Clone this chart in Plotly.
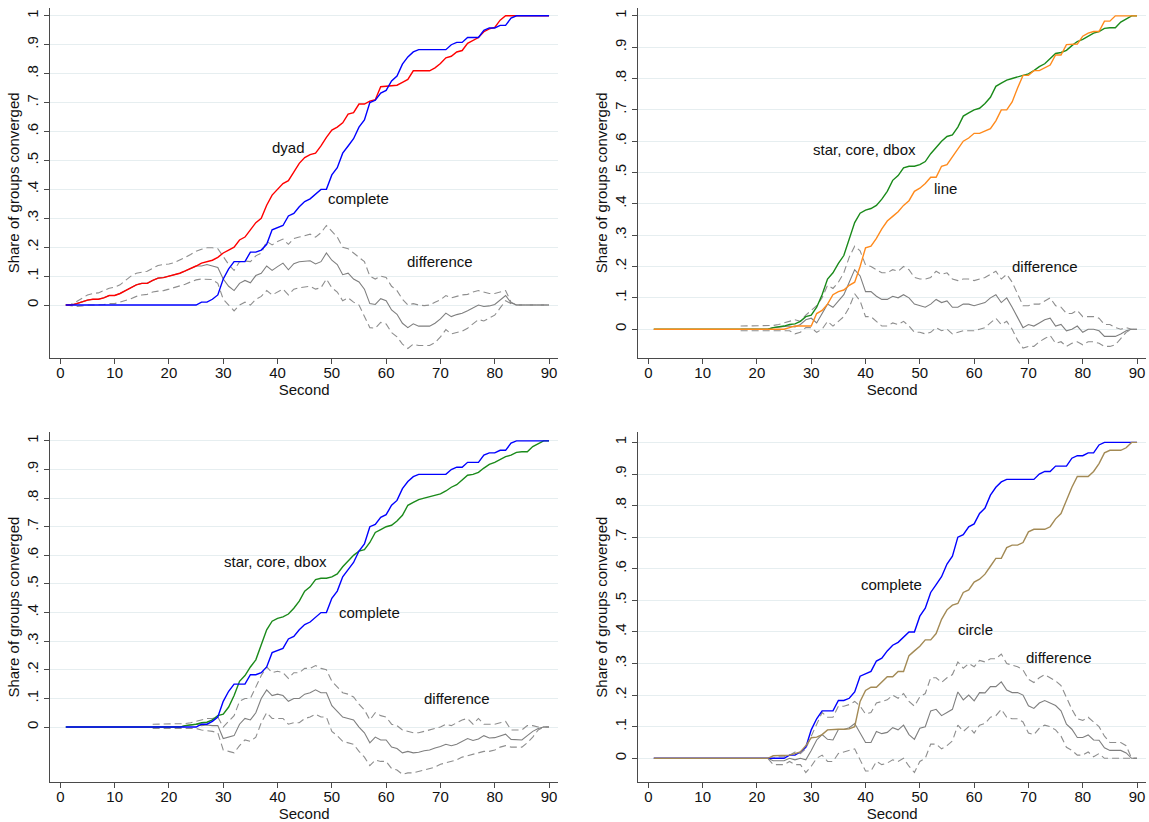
import plotly.graph_objects as go

seconds = list(range(1, 91))

complete = [0,0,0,0,0,0,0,0,0,0,
            0,0,0,0,0,0,0,0,0,0,
            0,0,0,0,0,0.01,0.01,0.02,0.035,0.09,
            0.125,0.15,0.15,0.15,0.183,0.183,0.19,0.21,0.26,0.267,
            0.275,0.308,0.317,0.34,0.358,0.367,0.383,0.4,0.4,0.45,
            0.475,0.525,0.55,0.575,0.615,0.64,0.7,0.708,0.733,0.742,
            0.775,0.792,0.833,0.858,0.875,0.883,0.883,0.883,0.883,0.883,
            0.883,0.9,0.908,0.908,0.925,0.925,0.925,0.95,0.958,0.958,
            0.967,0.967,0.992,1,1,1,1,1,1,1]

dyad = [0,0,0.005,0.012,0.017,0.02,0.02,0.025,0.033,0.033,
        0.04,0.05,0.06,0.07,0.075,0.075,0.085,0.093,0.095,0.1,
        0.103,0.11,0.118,0.126,0.135,0.145,0.15,0.155,0.165,0.18,
        0.19,0.2,0.225,0.235,0.26,0.285,0.3,0.345,0.38,0.4,
        0.42,0.43,0.46,0.49,0.51,0.52,0.525,0.55,0.58,0.605,
        0.615,0.63,0.66,0.665,0.695,0.695,0.705,0.71,0.755,0.757,
        0.758,0.76,0.77,0.78,0.81,0.81,0.81,0.81,0.82,0.835,
        0.855,0.86,0.875,0.88,0.905,0.915,0.925,0.945,0.955,0.96,
        0.985,1,1,1,1,1,1,1,1,1]

star = [0,0,0,0,0,0,0,0,0,0,
        0,0,0,0,0,0,0,0,0,0,
        0,0,0.005,0.007,0.01,0.015,0.017,0.025,0.04,0.045,
        0.07,0.11,0.16,0.18,0.21,0.235,0.29,0.34,0.37,0.38,
        0.385,0.395,0.415,0.44,0.475,0.49,0.515,0.52,0.52,0.525,
        0.535,0.56,0.58,0.6,0.615,0.62,0.645,0.68,0.69,0.7,
        0.705,0.72,0.74,0.775,0.785,0.795,0.8,0.805,0.812,0.815,
        0.825,0.838,0.847,0.865,0.88,0.883,0.89,0.905,0.918,0.925,
        0.935,0.945,0.95,0.96,0.962,0.962,0.98,0.99,1,1]

line = [0,0,0,0,0,0,0,0,0,0,
        0,0,0,0,0,0,0,0,0,0,
        0,0,0,0,0,0.005,0.01,0.01,0.01,0.01,
        0.05,0.06,0.08,0.11,0.12,0.125,0.14,0.15,0.2,0.26,
        0.265,0.29,0.32,0.345,0.36,0.375,0.395,0.41,0.44,0.45,
        0.465,0.485,0.485,0.52,0.525,0.55,0.575,0.6,0.61,0.625,
        0.625,0.633,0.64,0.665,0.7,0.7,0.725,0.77,0.81,0.81,
        0.825,0.825,0.833,0.843,0.875,0.875,0.908,0.908,0.91,0.935,
        0.945,0.95,0.95,0.983,0.983,1,1,1,1,1]

circle = [0,0,0,0,0,0,0,0,0,0,
          0,0,0,0,0,0,0,0,0,0,
          0,0,0.008,0.008,0.008,0.01,0.015,0.02,0.04,0.065,
          0.067,0.075,0.09,0.092,0.092,0.092,0.093,0.1,0.18,0.215,
          0.225,0.225,0.24,0.258,0.258,0.275,0.275,0.325,0.34,0.355,
          0.375,0.375,0.395,0.44,0.47,0.485,0.49,0.525,0.533,0.558,
          0.567,0.583,0.608,0.633,0.633,0.667,0.675,0.675,0.683,0.717,
          0.725,0.725,0.725,0.733,0.758,0.775,0.817,0.858,0.892,0.892,
          0.892,0.908,0.933,0.967,0.975,0.975,0.975,0.983,1,1]

N = None

# panel 1: dyad - complete
diff1 = [0,0,0.005,0.012,0.017,0.02,0.02,0.025,0.033,0.033,
         0.04,0.05,0.06,0.07,0.075,0.075,0.085,0.093,0.095,0.1,
         0.103,0.11,0.118,0.126,0.135,0.135,0.14,0.135,0.13,0.09,
         0.065,0.05,0.075,0.085,0.077,0.102,0.11,0.135,0.12,0.133,
         0.145,0.122,0.143,0.15,0.152,0.153,0.142,0.15,0.18,0.155,
         0.14,0.105,0.11,0.09,0.08,0.055,0.005,0.002,0.022,0.015,
         -0.017,-0.032,-0.063,-0.078,-0.065,-0.073,-0.073,-0.073,-0.063,-0.048,
         -0.028,-0.04,-0.033,-0.028,-0.02,-0.01,0.0,-0.005,-0.003,0.002,
         0.018,0.033,0.008,0,0,0,0,0,0,0]
upper1 = [0,0.003,0.012,0.025,0.035,0.04,0.042,0.05,0.058,0.062,
          0.07,0.085,0.1,0.11,0.113,0.117,0.127,0.137,0.14,0.142,
          0.147,0.155,0.165,0.175,0.186,0.193,0.198,0.198,0.195,0.168,
          0.14,0.12,0.15,0.152,0.15,0.17,0.18,0.22,0.208,0.22,
          0.228,0.21,0.23,0.235,0.24,0.245,0.235,0.25,0.275,0.255,
          0.235,0.2,0.195,0.18,0.165,0.15,0.1,0.09,0.1,0.095,
          0.065,0.05,0.02,0.0,0.005,0.0,-0.002,0.0,0.01,0.018,
          0.033,0.025,0.03,0.035,0.037,0.045,0.05,0.045,0.04,0.04,
          0.045,0.05,0.01,0,0,0,0,0,0,0]
lower1 = [0,-0.002,-0.005,-0.003,0.0,0.0,0.0,0.002,0.005,0.005,
          0.01,0.015,0.022,0.03,0.035,0.037,0.045,0.048,0.05,0.055,
          0.06,0.065,0.072,0.08,0.087,0.09,0.09,0.088,0.075,0.02,
          0.0,-0.02,0.0,0.01,0.0,0.02,0.03,0.05,0.035,0.045,
          0.055,0.035,0.055,0.06,0.062,0.065,0.055,0.06,0.09,0.06,
          0.045,0.015,0.025,0.01,0.0,-0.04,-0.078,-0.08,-0.06,-0.065,
          -0.095,-0.11,-0.135,-0.15,-0.135,-0.14,-0.14,-0.14,-0.13,-0.11,
          -0.085,-0.1,-0.095,-0.09,-0.08,-0.065,-0.05,-0.055,-0.045,-0.035,
          -0.01,0.015,0.005,0,0,0,0,0,0,0]

# panel 2: star - line
diff2 = [N,N,N,N,N,N,N,N,N,N,
         N,N,N,N,N,N,0,0,0,0,
         0,0,0.005,0.007,0.01,0.01,0.007,0.015,0.03,0.035,
         0.02,0.05,0.08,0.07,0.09,0.11,0.15,0.19,0.17,0.12,
         0.12,0.105,0.095,0.095,0.105,0.1,0.11,0.1,0.08,0.075,
         0.07,0.08,0.095,0.085,0.09,0.07,0.07,0.08,0.08,0.075,
         0.08,0.085,0.1,0.11,0.085,0.1,0.07,0.035,0.005,0.015,
         0.01,0.02,0.03,0.035,0.01,0.015,-0.005,0.0,0.01,-0.01,
         0.0,0.0,-0.005,-0.023,-0.023,-0.023,-0.015,-0.005,0,0]
upper2 = [N,N,N,N,N,N,N,N,N,N,
          N,N,N,N,N,N,0.01,0.01,0.01,0.01,
          0.01,0.01,0.012,0.015,0.02,0.025,0.03,0.025,0.045,0.06,
          0.075,0.1,0.14,0.13,0.15,0.18,0.23,0.265,0.25,0.205,
          0.2,0.19,0.18,0.18,0.19,0.185,0.2,0.19,0.165,0.16,
          0.16,0.165,0.185,0.175,0.18,0.16,0.155,0.16,0.16,0.155,
          0.16,0.165,0.175,0.185,0.16,0.175,0.15,0.11,0.075,0.075,
          0.08,0.08,0.09,0.1,0.075,0.07,0.05,0.05,0.06,0.04,
          0.04,0.04,0.035,0.015,0.015,0.005,0.0,0.005,0,0]
lower2 = [N,N,N,N,N,N,N,N,N,N,
          N,N,N,N,N,N,-0.005,-0.005,-0.005,-0.005,
          -0.005,-0.005,-0.005,-0.005,-0.005,-0.005,-0.015,-0.01,0.005,0.005,
          -0.01,0.0,0.025,0.01,0.025,0.04,0.07,0.113,0.09,0.04,
          0.04,0.025,0.01,0.01,0.02,0.015,0.025,0.01,-0.01,-0.01,
          -0.015,-0.01,0.005,-0.005,0.0,-0.015,-0.01,-0.005,-0.005,-0.005,
          0.0,0.005,0.02,0.035,0.015,0.025,0.0,-0.035,-0.06,-0.055,
          -0.055,-0.04,-0.03,-0.02,-0.045,-0.04,-0.055,-0.045,-0.04,-0.05,
          -0.04,-0.04,-0.045,-0.055,-0.055,-0.05,-0.03,-0.01,0,0]

# panel 3: star - complete
diff3 = [N,N,N,N,N,N,N,N,N,N,
         N,N,N,N,N,N,0,0,0,0,
         0,0,0.005,0.007,0.01,0.005,0.007,0.005,0.005,-0.04,
         -0.035,-0.03,0.01,0.03,0.025,0.05,0.1,0.13,0.11,0.115,
         0.11,0.09,0.1,0.1,0.115,0.12,0.13,0.12,0.12,0.075,
         0.055,0.035,0.03,0.025,0.0,-0.02,-0.055,-0.035,-0.045,-0.045,
         -0.07,-0.075,-0.09,-0.085,-0.09,-0.088,-0.083,-0.08,-0.073,-0.068,
         -0.06,-0.065,-0.06,-0.05,-0.04,-0.047,-0.042,-0.03,-0.038,-0.037,
         -0.03,-0.025,-0.043,-0.045,-0.045,-0.03,-0.015,-0.005,0,0]
upper3 = [N,N,N,N,N,N,N,N,N,N,
          N,N,N,N,N,N,0.01,0.01,0.01,0.01,
          0.01,0.01,0.012,0.015,0.02,0.025,0.03,0.03,0.035,0.0,
          0.02,0.04,0.09,0.1,0.1,0.14,0.18,0.21,0.19,0.195,
          0.19,0.17,0.19,0.19,0.205,0.205,0.215,0.205,0.2,0.16,
          0.14,0.12,0.115,0.105,0.08,0.06,0.025,0.05,0.04,0.035,
          0.01,0.005,-0.01,-0.015,-0.02,-0.02,-0.015,-0.01,-0.005,0.0,
          0.01,0.005,0.015,0.025,0.03,0.01,0.03,0.01,0.01,0.01,
          0.015,0.02,-0.01,-0.01,-0.01,0.005,0.005,0.0,0,0]
lower3 = [N,N,N,N,N,N,N,N,N,N,
          N,N,N,N,N,N,-0.005,-0.005,-0.005,-0.005,
          -0.005,-0.005,-0.005,-0.005,-0.005,-0.01,-0.012,-0.015,-0.02,-0.08,
          -0.085,-0.09,-0.065,-0.045,-0.05,-0.035,0.015,0.05,0.03,0.03,
          0.03,0.01,0.015,0.015,0.03,0.035,0.045,0.035,0.035,-0.015,
          -0.03,-0.05,-0.055,-0.06,-0.085,-0.105,-0.135,-0.115,-0.12,-0.12,
          -0.145,-0.15,-0.165,-0.16,-0.16,-0.155,-0.15,-0.145,-0.14,-0.13,
          -0.125,-0.12,-0.115,-0.105,-0.1,-0.095,-0.09,-0.085,-0.085,-0.08,
          -0.07,-0.065,-0.07,-0.07,-0.07,-0.055,-0.035,-0.01,0,0]

# panel 4: complete - circle
diff4 = [N,N,N,N,N,N,N,N,N,N,
         N,N,N,N,N,N,N,N,N,N,
         N,0,-0.008,-0.008,-0.008,0.0,-0.005,0.0,-0.005,0.025,
         0.058,0.075,0.06,0.058,0.091,0.091,0.097,0.11,0.08,0.05,
         0.05,0.085,0.078,0.082,0.097,0.09,0.105,0.075,0.06,0.095,
         0.1,0.15,0.155,0.135,0.145,0.155,0.21,0.185,0.2,0.182,
         0.208,0.207,0.227,0.227,0.242,0.216,0.208,0.208,0.2,0.166,
         0.158,0.175,0.183,0.175,0.167,0.15,0.108,0.092,0.066,0.066,
         0.074,0.058,0.057,0.033,0.025,0.025,0.025,0.017,0,0]
upper4 = [N,N,N,N,N,N,N,N,N,N,
          N,N,N,N,N,N,N,N,N,N,
          N,0,0.0,0.005,0.005,0.01,0.02,0.015,0.03,0.07,
          0.11,0.145,0.13,0.13,0.165,0.165,0.17,0.18,0.165,0.14,
          0.145,0.175,0.18,0.185,0.2,0.19,0.205,0.18,0.165,0.195,
          0.205,0.255,0.255,0.24,0.255,0.265,0.305,0.285,0.3,0.29,
          0.31,0.305,0.315,0.315,0.33,0.3,0.295,0.29,0.28,0.25,
          0.24,0.255,0.265,0.255,0.245,0.23,0.19,0.155,0.125,0.12,
          0.13,0.115,0.1,0.07,0.05,0.05,0.05,0.04,0,0]
lower4 = [N,N,N,N,N,N,N,N,N,N,
          N,N,N,N,N,N,N,N,N,N,
          N,0,-0.02,-0.02,-0.02,-0.01,-0.02,-0.02,-0.045,-0.025,
          0.0,0.01,-0.01,-0.01,0.015,0.02,0.025,0.03,-0.005,-0.04,
          -0.04,-0.01,-0.02,-0.015,-0.005,-0.01,0.0,-0.025,-0.045,-0.01,
          0.0,0.045,0.045,0.03,0.04,0.055,0.105,0.085,0.1,0.08,
          0.105,0.11,0.13,0.135,0.155,0.13,0.125,0.125,0.115,0.08,
          0.075,0.095,0.105,0.1,0.09,0.07,0.035,0.025,0.01,0.01,
          0.02,0.005,0.015,0.0,0.0,0.0,0.0,0.0,0,0]

y_tickvals = [0, 0.1, 0.2, 0.3, 0.4, 0.5, 0.6, 0.7, 0.8, 0.9, 1]
y_ticktext = ["0", ".1", ".2", ".3", ".4", ".5", ".6", ".7", ".8", ".9", "1"]
x_tickvals = [0, 10, 20, 30, 40, 50, 60, 70, 80, 90]

RED = "#FF0000"
BLUE = "#0000FF"
GREEN = "#1A8A1A"
ORANGE = "#FF8A1C"
TAN = "#A38A55"
GRAY = "#7F7F7F"
DGRAY = "#8E8E8E"

panels = [
    dict(a=(dyad, RED), b=(complete, BLUE), d=(diff1, upper1, lower1),
         yr=[-0.182, 1.027],
         labels=[("dyad", 42, 0.545), ("complete", 54.9, 0.368), ("difference", 70, 0.15)]),
    dict(a=(star, GREEN), b=(line, ORANGE), d=(diff2, upper2, lower2),
         yr=[-0.091, 1.025],
         labels=[("star, core, dbox", 39.8, 0.574), ("line", 54.8, 0.449), ("difference", 73, 0.199)]),
    dict(a=(star, GREEN), b=(complete, BLUE), d=(diff3, upper3, lower3),
         yr=[-0.193, 1.031],
         labels=[("star, core, dbox", 39.7, 0.577), ("complete", 56.9, 0.402), ("difference", 73, 0.101)]),
    dict(a=(complete, BLUE), b=(circle, TAN), d=(diff4, upper4, lower4),
         yr=[-0.076, 1.033],
         labels=[("complete", 44.8, 0.549), ("circle", 60.2, 0.407), ("difference", 75.7, 0.319)]),
]

# the page body margin is removed (see post_script), so the figure fills the window
W, H = 1149, 822
def xd(a, b):
    return [a / W, b / W]
def yd(top, bottom):
    return [1 - bottom / H, 1 - top / H]
xdoms = [xd(50.3, 558), xd(638.3, 1146)]
ydoms = [yd(8, 357.7), yd(432, 782.3)]

fig = go.Figure()
FONT = "Arial, Liberation Sans, Helvetica, sans-serif"
AXC = "#4A4A4A"
layout = {}
annotations = []
for i, p in enumerate(panels):
    n = i + 1
    xa = "x" if n == 1 else f"x{n}"
    ya = "y" if n == 1 else f"y{n}"
    col = i % 2
    row = i // 2
    dl, ul, ll = p["d"]
    for arr in (ul, ll):
        fig.add_trace(go.Scatter(x=seconds, y=arr, mode="lines", xaxis=xa, yaxis=ya,
                                 line=dict(color=DGRAY, width=1.1, dash="7px,4px"),
                                 showlegend=False, hoverinfo="skip", connectgaps=False))
    fig.add_trace(go.Scatter(x=seconds, y=dl, mode="lines", xaxis=xa, yaxis=ya,
                             line=dict(color=GRAY, width=1.1), showlegend=False, connectgaps=False))
    fig.add_trace(go.Scatter(x=seconds, y=p["a"][0], mode="lines", xaxis=xa, yaxis=ya,
                             line=dict(color=p["a"][1], width=1.4), showlegend=False))
    fig.add_trace(go.Scatter(x=seconds, y=p["b"][0], mode="lines", xaxis=xa, yaxis=ya,
                             line=dict(color=p["b"][1], width=1.4), showlegend=False))
    kx = "xaxis" if n == 1 else f"xaxis{n}"
    ky = "yaxis" if n == 1 else f"yaxis{n}"
    layout[kx] = dict(domain=xdoms[col], anchor=ya, range=[-1.85, 91.65], automargin=False,
                      tickvals=x_tickvals, ticks="outside", ticklen=5, tickcolor=AXC,
                      ticklabelstandoff=-4,
                      showline=True, linecolor=AXC, linewidth=1.2, showgrid=False, zeroline=False,
                      tickfont=dict(family=FONT, size=15, color="#111111"),
                      title=dict(text="Second", standoff=0, font=dict(family=FONT, size=15, color="#111111")))
    layout[ky] = dict(domain=ydoms[row], anchor=xa, range=p["yr"], automargin=False,
                      tickvals=y_tickvals, ticktext=y_ticktext, tickangle=-90,
                      ticks="outside", ticklen=5, tickcolor=AXC,
                      showline=True, linecolor=AXC, linewidth=1.2,
                      showgrid=True, gridcolor="#E6EEF0", gridwidth=1, zeroline=False,
                      tickfont=dict(family=FONT, size=15, color="#111111"),
                      title=dict(text="Share of groups converged", standoff=0,
                                 font=dict(family=FONT, size=15, color="#111111")))
    for txt, lx, ly in p["labels"]:
        annotations.append(dict(text=txt, x=lx, y=ly, xref=xa, yref=ya, showarrow=False,
                                font=dict(family=FONT, size=15, color="#111111")))

fig.update_layout(width=W, height=H, margin=dict(l=0, r=0, t=0, b=0),
                  paper_bgcolor="white", plot_bgcolor="white",
                  annotations=annotations, **layout)
fig.write_html("out.html", config={"displayModeBar": False},
               post_script="document.body.style.margin='0';document.body.style.padding='0';"
                           "document.documentElement.style.overflow='hidden';")
